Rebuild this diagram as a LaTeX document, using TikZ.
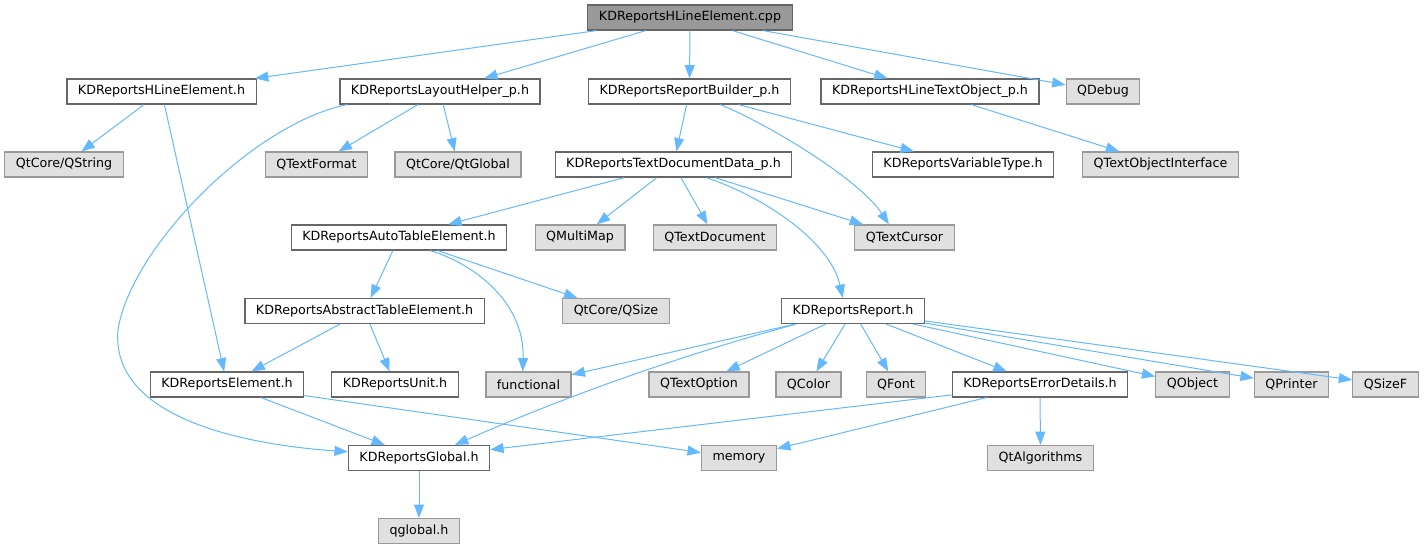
\documentclass[tikz,border=0pt]{standalone}
\usepackage{fontspec}
\setmainfont{DejaVu Sans}
\usetikzlibrary{arrows.meta}
\definecolor{linkblue}{HTML}{63B8FF}
\definecolor{boxline}{HTML}{666666}
\definecolor{extline}{HTML}{999999}
\definecolor{extfill}{HTML}{E0E0E0}
\begin{document}
\begin{tikzpicture}
        [x=0.75pt, y=-0.75pt, font=\fontsize{9.5}{11}\selectfont,
         hdr/.style={draw=boxline, fill=white, line width=0.9pt, minimum height=18.75pt, inner xsep=8.3pt},
         ext/.style={hdr, draw=extline, fill=extfill},
         root/.style={hdr, fill=extline},
         >={Triangle[length=10pt,width=7.5pt]},
         every path/.append style={line width=0.75pt}]
        \useasboundingbox (0,0) rectangle (1425,549);
        % top
        \node[root] (cpp) at (690,17.5) {KDReportsHLineElement.cpp};
        % second row
        \node[hdr] (hle) at (161.5,91.5) {KDReportsHLineElement.h};
        \node[hdr] (lh) at (440,91.5) {KDReportsLayoutHelper\_p.h};
        \node[hdr] (rb) at (689.5,91.5) {KDReportsReportBuilder\_p.h};
        \node[hdr] (hlto) at (930,91.5) {KDReportsHLineTextObject\_p.h};
        \node[ext] (qdbg) at (1103,91.5) {QDebug};
        % third row
        \node[ext] (qstr) at (64,164.5) {QtCore/QString};
        \node[ext] (qtf) at (316.5,164.5) {QTextFormat};
        \node[ext] (qglb) at (458,164.5) {QtCore/QtGlobal};
        \node[hdr] (tdd) at (673.5,164.5) {KDReportsTextDocumentData\_p.h};
        \node[hdr] (vt) at (963,164.5) {KDReportsVariableType.h};
        \node[ext] (qtoi) at (1160.5,164.5) {QTextObjectInterface};
        % fourth row
        \node[hdr] (ate) at (399,237.5) {KDReportsAutoTableElement.h};
        \node[ext] (qmm) at (580,237.5) {QMultiMap};
        \node[ext] (qtd) at (715,237.5) {QTextDocument};
        \node[ext] (qtc) at (904.5,237.5) {QTextCursor};
        % fifth row
        \node[hdr] (abs) at (364.5,311) {KDReportsAbstractTableElement.h};
        \node[ext] (qsz) at (616,311) {QtCore/QSize};
        \node[hdr] (rep) at (853,311) {KDReportsReport.h};
        % sixth row
        \node[hdr] (el) at (227,384.5) {KDReportsElement.h};
        \node[hdr] (unit) at (395,384.5) {KDReportsUnit.h};
        \node[ext] (fn) at (528.5,384.5) {functional};
        \node[ext] (qto) at (699,384.5) {QTextOption};
        \node[ext] (qcol) at (808.5,384.5) {QColor};
        \node[ext] (qfnt) at (896,384.5) {QFont};
        \node[hdr] (err) at (1040,384.5) {KDReportsErrorDetails.h};
        \node[ext] (qobj) at (1192.5,384.5) {QObject};
        \node[ext] (qprn) at (1291.5,384.5) {QPrinter};
        \node[ext] (qszf) at (1385.5,384.5) {QSizeF};
        % seventh row
        \node[hdr] (glob) at (419,458) {KDReportsGlobal.h};
        \node[ext] (mem) at (739,458) {memory};
        \node[ext] (qalg) at (1040.5,458) {QtAlgorithms};
        % bottom
        \node[ext] (qg) at (419,531) {qglobal.h};
        % links
        \begin{scope}[draw=linkblue]
        \draw[->] (cpp) -- (hle);
        \draw[->] (cpp) -- (lh);
        \draw[->] (cpp) -- (rb);
        \draw[->] (cpp) -- (hlto);
        \draw[->] (cpp) -- (qdbg);
        \draw[->] (hle) -- (qstr);
        \draw[->] (hle) -- (el);
        \draw[->] (lh) -- (qtf);
        \draw[->] (lh) -- (qglb);
        \draw[->] (lh.188) .. controls (250,125) and (130,250) .. (118,330)
                  .. controls (110,420) and (250,445) .. (glob.175);
        \draw[->] (rb) -- (tdd);
        \draw[->] (rb) -- (vt);
        \draw[->] (rb.-23) .. controls (770,125) and (860,180) .. (qtc.140);
        \draw[->] (hlto) -- (qtoi);
        \draw[->] (tdd) -- (ate);
        \draw[->] (tdd) -- (qmm);
        \draw[->] (tdd) -- (qtd);
        \draw[->] (tdd) -- (qtc);
        \draw[->] (tdd.-22) .. controls (760,195) and (830,240) .. (rep.128);
        \draw[->] (ate) -- (abs);
        \draw[->] (ate) -- (qsz);
        \draw[->] (ate.-23) .. controls (470,262) and (525,300) .. (fn.114);
        \draw[->] (abs) -- (el);
        \draw[->] (abs) -- (unit);
        \draw[->] (el) -- (glob);
        \draw[->] (el) -- (mem);
        \draw[->] (rep) -- (fn);
        \draw[->] (rep.193) .. controls (700,350) and (580,390) .. (glob.20);
        \draw[->] (rep) -- (qto);
        \draw[->] (rep) -- (qcol);
        \draw[->] (rep) -- (qfnt);
        \draw[->] (rep) -- (err);
        \draw[->] (rep) -- (qobj);
        \draw[->] (rep) -- (qprn);
        \draw[->] (rep) -- (qszf);
        \draw[->] (err) -- (glob);
        \draw[->] (err) -- (mem);
        \draw[->] (err) -- (qalg);
        \draw[->] (glob) -- (qg);
        \end{scope}
    \end{tikzpicture}
\end{document}
